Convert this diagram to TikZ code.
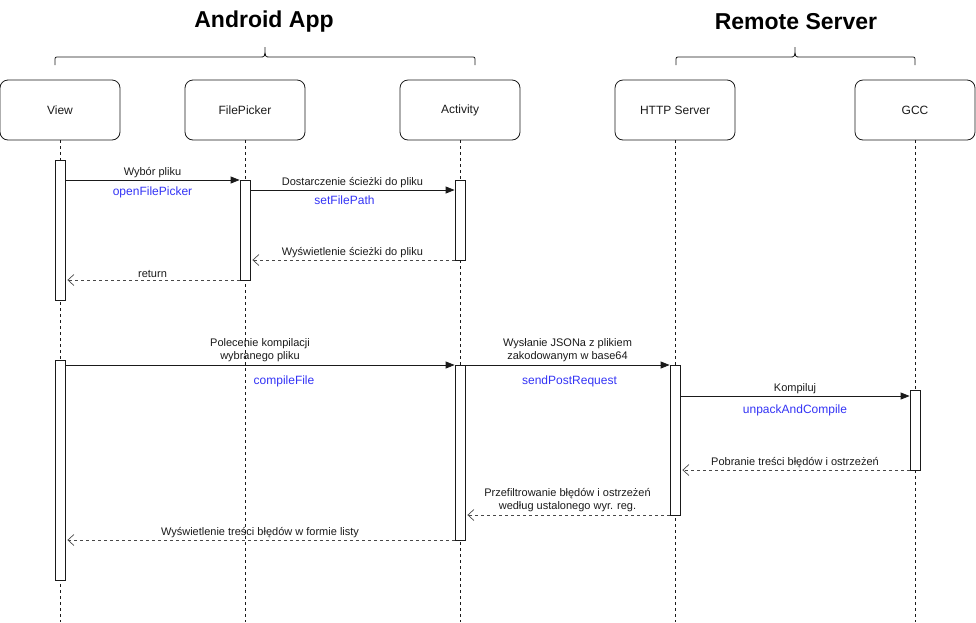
\documentclass[tikz,border=0pt]{standalone}
\usepackage{fontspec}
\setmainfont{Liberation Sans}
\usepackage{xcolor}
\usepackage{tikz}
\usetikzlibrary{arrows.meta,calc}
\definecolor{ink}{HTML}{1A1A1A}
\definecolor{call}{HTML}{3333F5}
\tikzset{
  lifebox/.style={draw=ink, rounded corners=8pt, minimum width=120pt, minimum height=60pt,
    font=\fontsize{12}{14}\selectfont, text=ink, line width=0.8pt},
  life/.style={draw=ink, dash pattern=on 3pt off 3pt, line width=0.8pt},
  actbar/.style={draw=ink, fill=white, minimum width=10pt, inner sep=0pt, line width=0.8pt},
  msg/.style={draw=ink, line width=0.8pt, -{Triangle[length=9pt,width=7pt]}},
  ret/.style={draw=ink!80, line width=0.8pt, dash pattern=on 3pt off 3pt, shorten >=2pt,
    -{Straight Barb[length=6pt,width=11pt,line width=0.7pt]}},
  lab/.style={font=\fontsize{11}{13}\selectfont, text=ink, inner sep=1pt, align=center},
  calllab/.style={font=\fontsize{12}{14}\selectfont, text=call, inner sep=1pt},
  title/.style={font=\fontsize{23}{26}\selectfont\bfseries, text=black},
  brace/.style={draw=ink, line width=0.8pt},
}
\begin{document}
\begin{tikzpicture}[x=1pt,y=-1pt]
  \useasboundingbox (0,0) rectangle (976,622);
  % titles and braces
  \node[title] (tapp) at (264,22) {Android App};
  \node[title] (tsrv) at (796,22) {Remote Server};
  \draw[brace] (55,65) -- (55,61) .. controls (55,57) .. (59,57) -- (260,57)
    .. controls (265,57) .. (265,47) .. controls (265,57) .. (270,57) -- (471,57)
    .. controls (475,57) .. (475,61) -- (475,65);
  \draw[brace] (676,65) -- (676,61) .. controls (676,57) .. (680,57) -- (790,57)
    .. controls (795,57) .. (795,47) .. controls (795,57) .. (800,57) -- (911,57)
    .. controls (915,57) .. (915,61) -- (915,65);
  % lifelines
  \coordinate (bottom) at (0,622);
  \foreach \name/\x/\txt in {view/60/View, picker/245/FilePicker, act/460/Activity,
                             http/675/HTTP Server, gcc/915/GCC}{
    \node[lifebox] (\name) at (\x,110) {\txt};
    \draw[life] (\name.south) -- (\name.south |- bottom);
  }
  % activation bars
  \node[actbar, minimum height=140pt] (v1) at (60,230) {};
  \node[actbar, minimum height=220pt] (v2) at (60,470) {};
  \node[actbar, minimum height=100pt] (p1) at (245,230) {};
  \node[actbar, minimum height=80pt] (a1) at (460,220) {};
  \node[actbar, minimum height=175pt] (a2) at (460,452.5) {};
  \node[actbar, minimum height=150pt] (h1) at (675,440) {};
  \node[actbar, minimum height=80pt] (g1) at (915,430) {};
  % message levels
  \foreach \n/\y in {m1/180, m2/190, m3/260, m4/280, m5/365, m7/396, m8/470, m9/515, m10/540}
    \coordinate (\n) at (0,\y);
  % file selection
  \draw[msg] (v1.east |- m1) -- node[lab, above=1pt] {Wybór pliku}
    node[calllab, below=5pt] {openFilePicker} (p1.west |- m1);
  \draw[msg] (p1.east |- m2) -- node[lab, above=1pt] {Dostarczenie ścieżki do pliku}
    node[calllab, below=4pt, xshift=-8pt] {setFilePath} (a1.west |- m2);
  \draw[ret] (a1.west |- m3) -- node[lab, above=1pt] {Wyświetlenie ścieżki do pliku} (p1.east |- m3);
  \draw[ret] (p1.west |- m4) -- node[lab, above=1pt] {return} (v1.east |- m4);
  % compilation
  \draw[msg] (v2.east |- m5) -- node[lab, above=2pt] {Polecenie kompilacji\\wybranego pliku}
    node[calllab, below=9pt, xshift=24pt] {compileFile} (a2.west |- m5);
  \draw[msg] (a2.east |- m5) -- node[lab, above=2pt] {Wysłanie JSONa z plikiem\\zakodowanym w base64}
    node[calllab, below=9pt, xshift=2pt] {sendPostRequest} (h1.west |- m5);
  \draw[msg] (h1.east |- m7) -- node[lab, above=1pt] {Kompiluj}
    node[calllab, below=7pt] {unpackAndCompile} (g1.west |- m7);
  \draw[ret] (g1.west |- m8) -- node[lab, above=1pt] {Pobranie treści błędów i ostrzeżeń} (h1.east |- m8);
  \draw[ret] (h1.west |- m9) -- node[lab, above=2pt] {Przefiltrowanie błędów i ostrzeżeń\\według ustalonego wyr. reg.}
    (a2.east |- m9);
  \draw[ret] (a2.west |- m10) -- node[lab, above=1pt] {Wyświetlenie treści błędów w formie listy} (v2.east |- m10);
\end{tikzpicture}
\end{document}
